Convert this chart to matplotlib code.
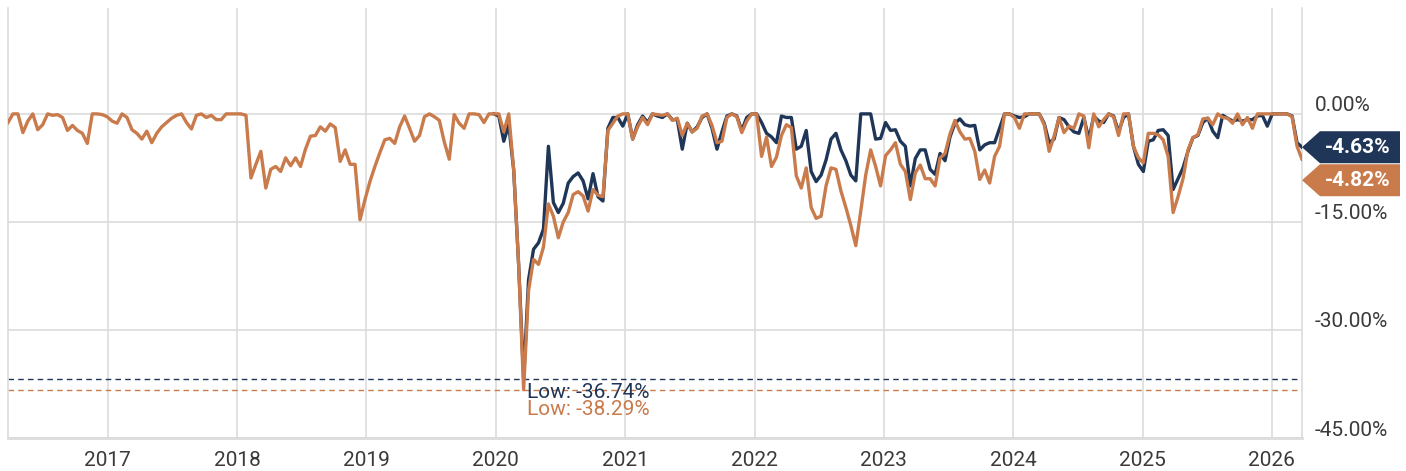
import matplotlib
matplotlib.use("Agg")
import matplotlib.pyplot as plt
from matplotlib.patches import Polygon
from matplotlib.transforms import blended_transform_factory, offset_copy
import pandas as pd
import numpy as np

plt.rcParams['font.family'] = ['Roboto', 'DejaVu Sans']

# ---------------- data ----------------
dates = pd.date_range('2016-03-25', periods=262, freq='14D')

orange_dd = [
    -1.2, 0, 0, -2.6, -1.0, 0, -2.2, -1.5, 0, -0.2,
    -0.1, -0.5, -2.3, -1.6, -2.3, -2.7, -4.1, 0, 0, -0.1,
    -0.4, -1.0, -1.3, 0, -0.5, -2.2, -2.7, -3.5, -2.4, -4.0,
    -2.7, -1.8, -1.2, -0.6, -0.2, 0, -1.2, -2.1, -0.2, 0,
    -0.5, -0.2, -0.8, -0.8, 0, 0, 0, 0, -0.2, -8.9,
    -7.0, -5.2, -10.3, -7.7, -7.3, -8.0, -6.1, -7.2, -6.1, -7.3,
    -4.9, -3.1, -3.0, -1.8, -2.4, -1.4, -1.9, -6.6, -5.0, -7.0,
    -7.0, -14.7, -11.9, -9.4, -7.3, -5.4, -3.6, -3.4, -4.1, -1.8,
    -0.3, -2.0, -3.8, -3.0, -0.4, 0, -0.4, -0.9, -3.9, -6.3,
    -0.1, -1.3, -2.0, 0, 0, -0.1, -1.2, 0, 0, 0,
    -2.5, 0, -7.8, -21.0, -38.29, -24.5, -20.2, -20.9, -18.5, -12.5,
    -14.2, -17.2, -15.0, -13.7, -11.2, -10.8, -11.4, -13.5, -10.5, -11.3,
    -11.5, -2.3, -1.3, -0.3, 0, 0, -3.5, -1.8, -0.5, -1.5,
    0, -0.1, -0.2, 0, -0.9, -0.6, -3.0, -1.3, -2.5, -2.0,
    -0.3, 0, -1.6, -4.0, -3.8, -0.5, 0, -0.4, -2.6, -1.0,
    0, 0, -5.9, -3.2, -7.3, -6.0, -3.0, -1.5, -1.9, -8.6,
    -10.3, -7.5, -13.0, -14.5, -14.2, -10.0, -7.5, -7.7, -10.7, -13.0,
    -15.5, -18.3, -13.5, -8.5, -5.0, -7.3, -10.0, -5.8, -5.0, -4.0,
    -7.0, -8.0, -11.9, -8.2, -7.1, -9.0, -9.0, -10.0, -6.1, -5.5,
    -2.8, -0.9, -2.5, -3.5, -3.4, -5.2, -9.1, -7.8, -9.6, -5.9,
    -4.5, 0, 0, -0.5, -2.0, 0, 0, 0, 0, -1.5,
    -5.2, -3.1, -0.5, -2.6, -1.7, -2.0, 0, -0.3, -4.7, 0,
    -1.8, -0.8, 0, -0.4, -3.0, 0, 0, -4.5, -6.1, -6.8,
    -2.7, -2.7, -2.9, -3.6, -5.9, -13.7, -11.5, -9.0, -5.0, -3.3,
    -2.9, -0.7, -0.6, -1.5, 0, -0.5, -0.6, -1.3, 0, -1.5,
    -0.5, -2.0, 0, 0, 0, 0, 0, 0, 0, -0.4,
    -4.5, -6.3,
]

navy_start = 98
navy_dd = [
    0, -0.3, -3.8, -1.5, -7.8, -21.0, -36.74, -23.0, -18.8, -17.9, -16.0, -4.5,
    -12.3, -13.7, -12.4, -9.6, -8.7, -8.2, -9.3, -11.8, -8.3, -11.5,
    -12.1, -2.0, -0.5, -0.5, -1.7, 0, -3.5, -1.5, -0.3, -1.2,
    0, -0.3, -0.5, 0, -0.8, -0.8, -4.9, -1.3, -2.5, -1.8,
    -0.5, 0, -2.0, -4.9, -2.5, -0.3, 0, -0.3, -2.3, -0.5,
    0, 0, -1.2, -2.7, -3.2, -4.0, -0.3, -0.5, -0.5, -4.9,
    -4.5, -2.3, -8.0, -9.4, -8.5, -6.4, -3.5, -2.7, -5.0, -6.5,
    -8.5, -9.3, 0, 0, 0, -3.5, -3.4, -1.2, -2.3, -2.2,
    -3.8, -4.5, -10.0, -6.2, -5.0, -5.0, -7.7, -8.4, -5.5, -6.5,
    -3.2, -1.3, -0.7, -1.5, -1.7, -1.6, -5.0, -4.3, -4.0, -4.0,
    -2.0, 0, 0, -0.3, -0.5, -0.4, 0, 0, 0, -1.3,
    -4.0, -3.5, -0.5, -0.8, -1.8, -2.5, -2.7, -0.5, -3.5, -0.3,
    -1.0, -1.2, 0, -0.3, -2.5, -0.5, 0, -4.5, -7.0, -8.0,
    -3.8, -3.6, -2.3, -2.2, -3.0, -10.5, -9.0, -7.5, -5.2, -3.3,
    -3.0, -1.2, -0.6, -2.4, -3.3, -0.2, -0.6, -1.0, -0.8, -1.0,
    -0.8, -0.8, -0.3, -0.2, -1.7, 0, 0, 0, 0, -0.3,
    -4.0, -4.63,
]

end_labels = ["-4.63%", "-4.82%"]
low_values = [-36.74, -38.29]
year_ticks = list(range(2017, 2027))
y_ticks = [0, -15, -30, -45]

NAVY = "#1f3658"
ORANGE = "#c97b4c"
GRID = "#dcdcdc"
TXT = "#3a3a3a"

# ---------------- figure ----------------
W, H = 1406, 471
fig = plt.figure(figsize=(W / 100, H / 100), dpi=100)
L, R, T, B = 8, 1302, 8, 438
ax = fig.add_axes([L / W, 1 - B / H, (R - L) / W, (B - T) / H])

navy_dates = dates[navy_start:navy_start + len(navy_dd)]
ax.plot(navy_dates, navy_dd, color=NAVY, lw=2.4, solid_joinstyle='round', zorder=3)
ax.plot(dates, orange_dd, color=ORANGE, lw=2.4, solid_joinstyle='round', zorder=4)

ax.set_xlim(dates[0], dates[-1])
ax.set_ylim(-45, 14.7)

ax.set_xticks([pd.Timestamp(f"{y}-01-01") for y in year_ticks])
ax.set_xticklabels([str(y) for y in year_ticks])
ax.set_yticks(y_ticks)
ax.set_yticklabels([])
ax.tick_params(axis='both', length=0)
ax.tick_params(axis='x', pad=9, labelsize=15, labelcolor=TXT)
ax.grid(True, color=GRID, lw=1.2, zorder=0)
ax.set_axisbelow(True)
for s in ax.spines.values():
    s.set_color(GRID)
    s.set_linewidth(1.2)
ax.spines['top'].set_visible(False)
ax.spines['bottom'].set_linewidth(2.0)

# y labels on the right, slightly above gridlines
btr = blended_transform_factory(ax.transAxes, ax.transData)
btr_off = offset_copy(btr, fig=fig, x=13, y=8, units='dots')
for v in y_ticks:
    ax.text(1.0, v, f"{v:.2f}%", transform=btr_off, ha='left', va='center',
            fontsize=15, color=TXT, clip_on=False)

# low lines + labels
low_colors = [NAVY, ORANGE]
for v, c in zip(low_values, low_colors):
    ax.axhline(v, color=c, lw=1.0, ls=(0, (4, 3)), zorder=2)
imin = int(np.argmin(orange_dd))
ax.annotate(f"Low: {low_values[0]:.2f}%", xy=(dates[imin], low_values[0]),
            xytext=(3, -4), textcoords='offset pixels', ha='left', va='top',
            fontsize=15, color=NAVY, zorder=6, annotation_clip=False)
ax.annotate(f"Low: {low_values[1]:.2f}%", xy=(dates[imin], low_values[0]),
            xytext=(3, -21), textcoords='offset pixels', ha='left', va='top',
            fontsize=15, color=ORANGE, zorder=5, annotation_clip=False)

# end-value tags
def tag(yc, color, label):
    tip_x = R
    body_x0 = R + 18
    body_x1 = 1400
    hh = 16
    pts = [(tip_x, yc), (body_x0, yc - hh), (body_x1, yc - hh),
           (body_x1, yc + hh), (body_x0, yc + hh)]
    pts = [(x / W, 1 - y / H) for x, y in pts]
    fig.add_artist(Polygon(pts, closed=True, facecolor=color, edgecolor='none',
                           transform=fig.transFigure))
    fig.text((body_x0 + body_x1) / 2 / W - 0.002, 1 - yc / H, label, ha='center', va='center',
             fontsize=15, fontweight='bold', color='white')

y_navy_disp = ax.transData.transform((0, navy_dd[-1]))[1]
yc_navy = H - y_navy_disp
tag(yc_navy, NAVY, end_labels[0])
tag(yc_navy + 33, ORANGE, end_labels[1])

fig.savefig("out.png", dpi=100)
